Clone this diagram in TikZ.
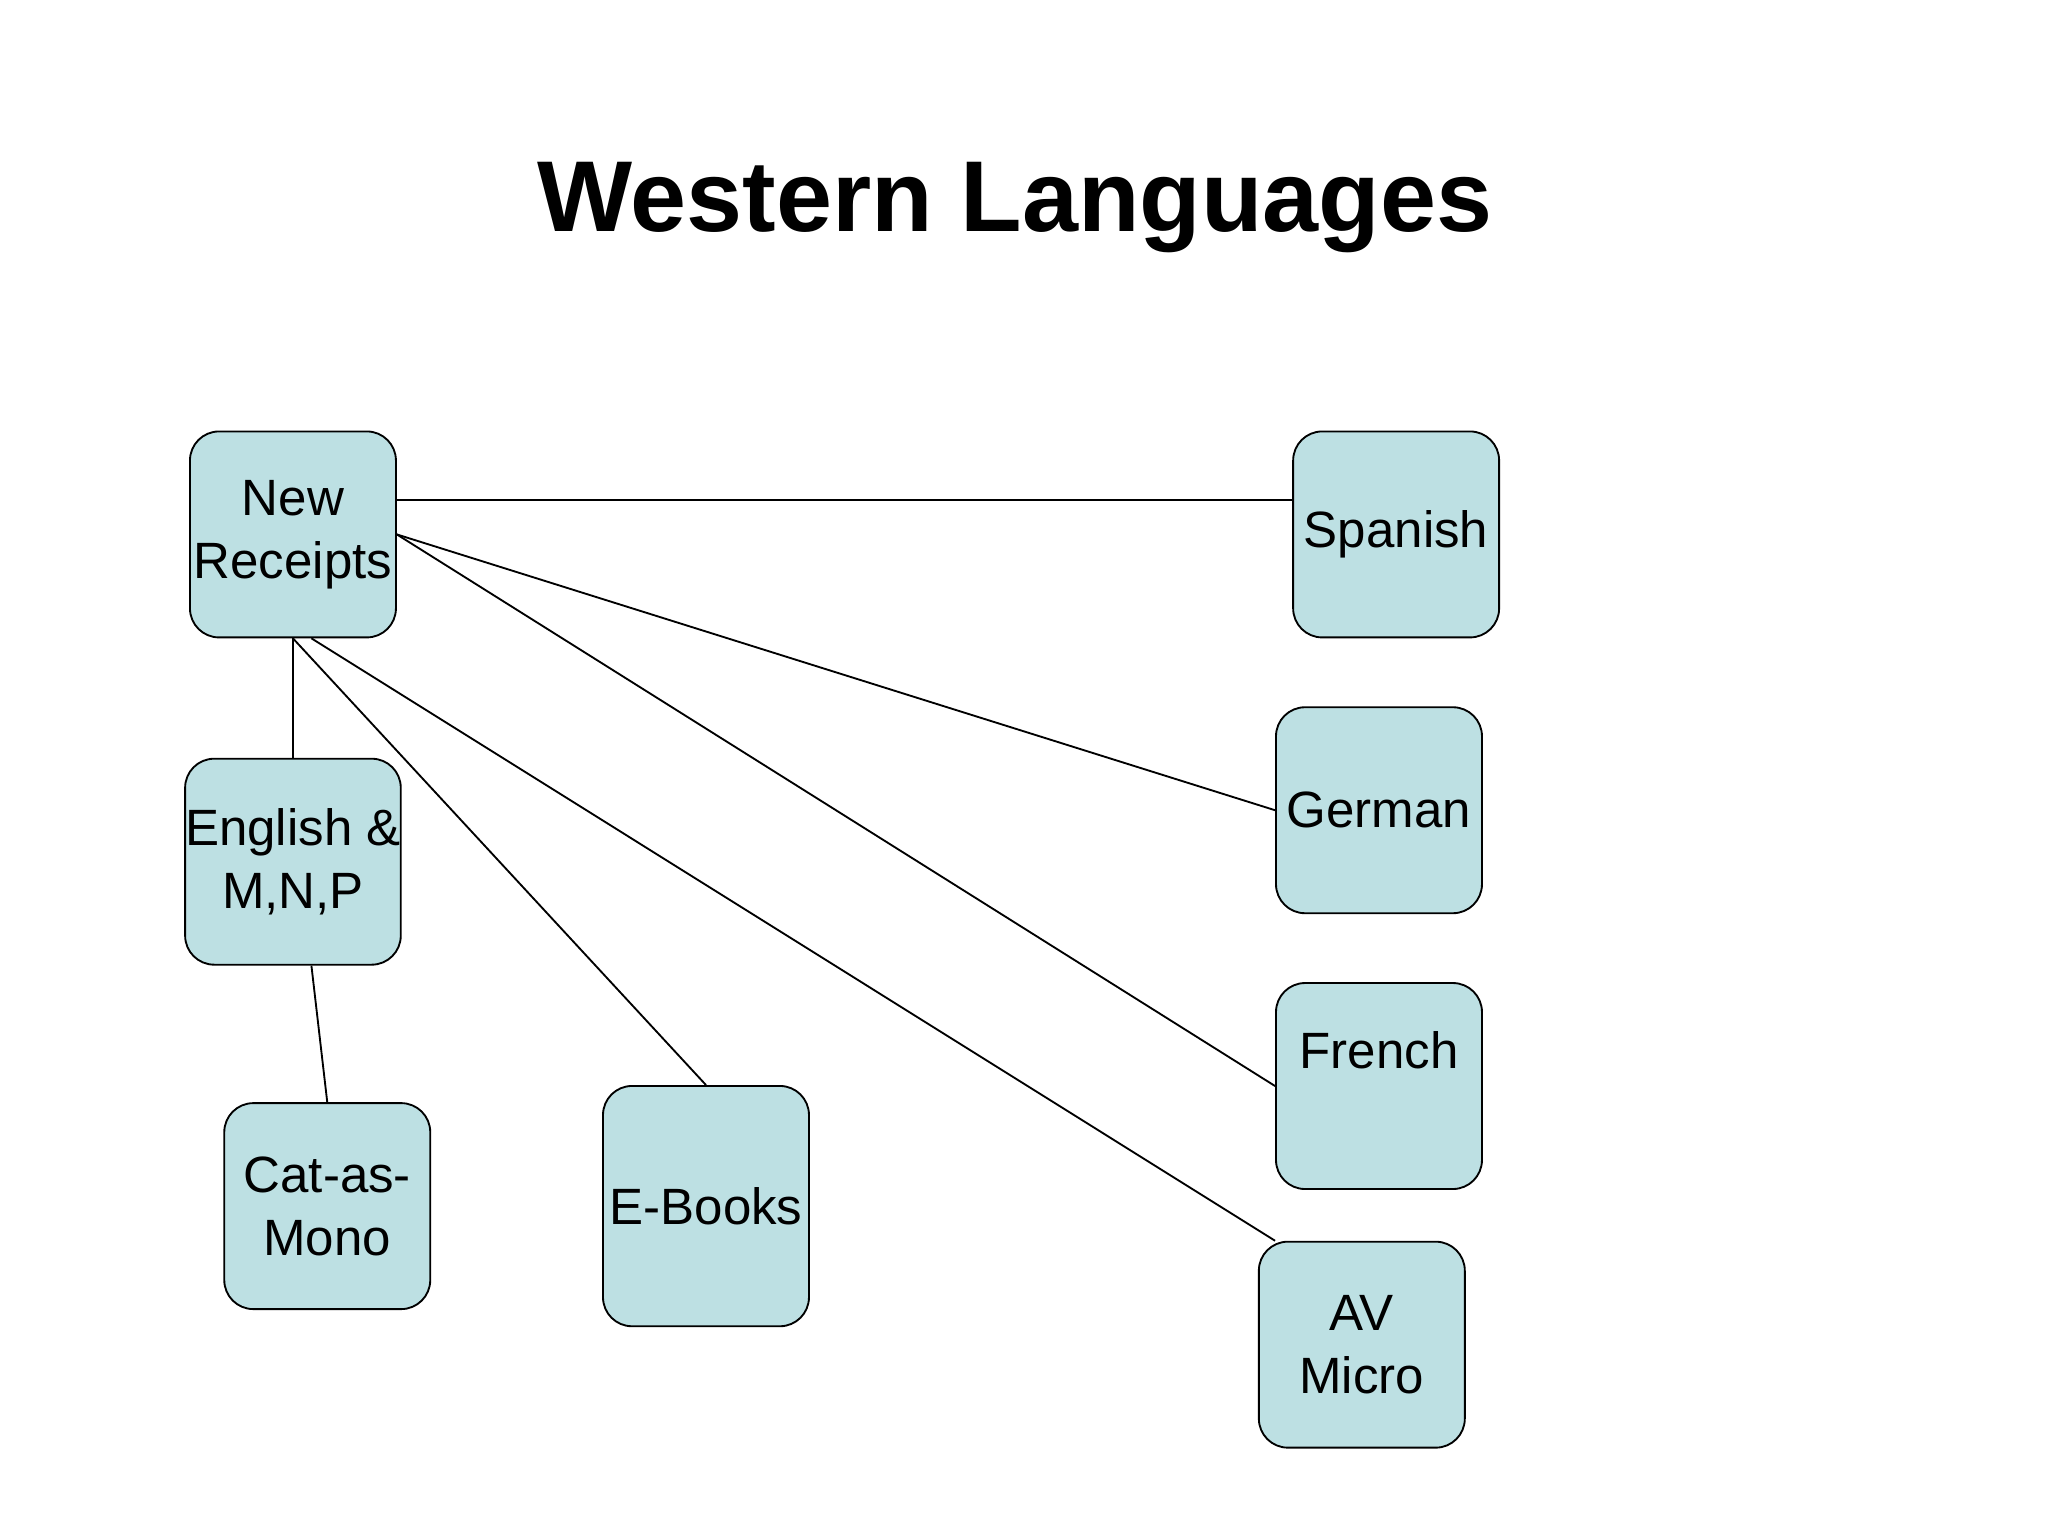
\documentclass[tikz,border=0pt]{standalone}
\usepackage{fontspec}
\setmainfont{Liberation Sans}
\usetikzlibrary{calc}
\definecolor{boxfill}{HTML}{BDE0E3}
\begin{document}
\begin{tikzpicture}[x=0.01cm,y=-0.01cm,
  box/.style={draw,fill=boxfill,rounded corners=0.22cm,minimum width=1.56cm,minimum height=1.56cm,inner sep=0pt,align=center,font=\fontsize{11}{13.6}\selectfont},
  link/.style={draw,line width=0.4pt}]
\useasboundingbox (0,0) rectangle (1552,1164);
\node[font=\fontsize{21.7}{26}\selectfont\bfseries] (title) at (769,157) {Western Languages};
\node[box] (nr) at (222,405) {New\\Receipts};
\node[box] (sp) at (1058,405) {Spanish};
\node[box] (de) at (1045,614) {German};
\node[box,label={[font=\fontsize{11}{13.6}\selectfont]center:{\raisebox{0.55cm}{French}}}] (fr) at (1045,823) {};
\node[box] (av) at (1032,1019) {AV\\Micro};
\node[box] (en) at (222,653) {English \&\\M,N,P};
\node[box] (cat) at (248,914) {Cat-as-\\Mono};
\node[box,minimum height=1.82cm] (eb) at (535,914) {E-Books};
\draw[link] ($(nr.east)+(0,-26)$) -- ($(sp.west)+(0,-26)$);
\draw[link] (nr.east) -- (de.west);
\draw[link] (nr.east) -- (fr.west);
\draw[link] ($(nr.south)+(14,0)$) -- ($(av.north west)+(13,0)$);
\draw[link] (nr.south) -- (eb.north);
\draw[link] (nr.south) -- (en.north);
\draw[link] ($(en.south)+(14,0)$) -- (cat.north);
\end{tikzpicture}
\end{document}
